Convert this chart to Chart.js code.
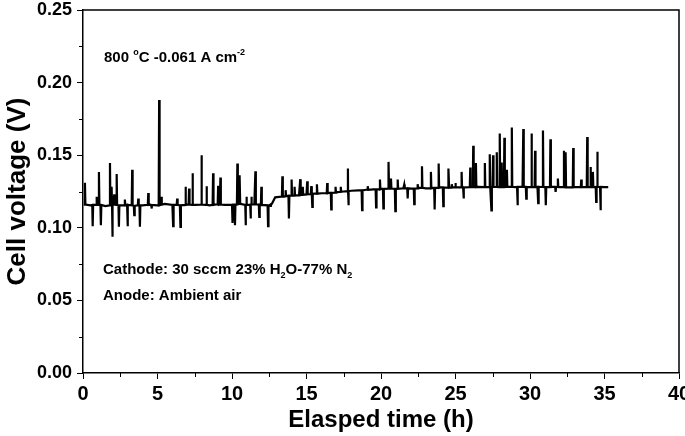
<!DOCTYPE html>
<html>
<head>
<meta charset="utf-8">
<script src="https://cdn.jsdelivr.net/npm/chart.js@4.4.1/dist/chart.umd.min.js"></script>
<style>
  html, body { margin: 0; padding: 0; background: #fff; }
</style>
</head>
<body>
<canvas id="voltChart" width="685" height="436"></canvas>
<script>
// baseline readings (h, V)
let baseTimes = [0.05, 0.5, 1.0, 1.5, 2.0, 2.5, 3.0, 3.5, 4.0, 4.5, 5.0, 5.5, 6.0, 6.5, 7.0, 7.5, 8.0, 8.5, 9.0, 9.5,
  10.0, 10.5, 11.0, 11.5, 12.0, 12.5, 12.7, 12.9, 13.5, 14.0, 14.5, 15.0, 15.5, 16.0, 16.5, 17.0, 17.5, 18.0, 18.5, 19.0,
  19.5, 20.0, 20.5, 21.0, 21.5, 22.0, 22.5, 23.0, 23.5, 24.0, 24.5, 25.0, 25.5, 26.0, 26.5, 27.0, 27.5, 28.0, 28.5, 29.0,
  29.5, 30.0, 30.5, 31.0, 31.5, 32.0, 32.5, 33.0, 33.5, 34.0, 34.5, 35.0, 35.25];
let baseVolts = [0.1160, 0.1155, 0.1158, 0.1150, 0.1160, 0.1155, 0.1158, 0.1152, 0.1155, 0.1160, 0.1155, 0.1165, 0.1158, 0.1155, 0.1160, 0.1158, 0.1160, 0.1155, 0.1162, 0.1158,
  0.1160, 0.1165, 0.1158, 0.1162, 0.1158, 0.1155, 0.1170, 0.1210, 0.1215, 0.1222, 0.1225, 0.1230, 0.1235, 0.1238, 0.1240, 0.1245, 0.1250, 0.1255, 0.1258, 0.1262,
  0.1265, 0.1268, 0.1270, 0.1268, 0.1272, 0.1270, 0.1275, 0.1272, 0.1275, 0.1278, 0.1276, 0.1280, 0.1278, 0.1280, 0.1282, 0.1280, 0.1282, 0.1280, 0.1282, 0.1280,
  0.1283, 0.1280, 0.1282, 0.1280, 0.1282, 0.1280, 0.1278, 0.1280, 0.1282, 0.1280, 0.1282, 0.1280, 0.1280];

// spikes: time, tip value, level the trace leaves from
let spikeTimes = [0.13, 0.65, 0.92, 1.07, 1.20, 1.81, 1.92, 1.99, 2.10, 2.26, 2.41, 2.81, 2.99, 3.30, 3.44, 3.71, 3.82, 4.38, 4.60, 5.11, 5.27,
  6.05, 6.32, 6.54, 6.88, 7.12, 7.35, 7.95, 8.29, 8.73, 9.07, 9.22, 10.05, 10.20, 10.36, 10.52, 10.92, 10.96, 11.25, 11.30, 11.57,
  11.83, 11.97, 12.42, 12.60, 13.38, 13.60, 13.82, 14.00, 14.20, 14.58, 14.75, 15.05, 15.32, 15.39, 15.70, 16.39, 16.66, 16.95, 17.30, 17.78,
  17.82, 18.73, 19.11, 19.67, 19.93, 20.16, 20.51, 20.67, 20.96, 21.12, 21.56, 21.79, 22.23, 22.46, 22.75, 23.35, 23.60, 23.87, 24.18, 24.54,
  24.75, 25.00, 25.41, 25.54, 25.99, 26.19, 26.37, 26.97, 27.30, 27.41, 27.52, 27.77, 27.97, 28.10, 28.28, 28.45, 28.78, 29.16, 29.55, 29.75, 30.10, 30.34,
  30.55, 30.87, 31.06, 31.37, 31.72, 31.87, 32.28, 32.39, 32.90, 33.44, 33.84, 34.06, 34.22, 34.44, 34.53, 34.73];
let spikePeaks = [0.1310, 0.1011, 0.1213, 0.1385, 0.1018, 0.1447, 0.1282, 0.0938, 0.1230, 0.1370, 0.1007, 0.1195, 0.1011, 0.1400, 0.1087, 0.1202, 0.1007, 0.1240, 0.1133, 0.1880, 0.1213,
  0.1011, 0.1202, 0.1007, 0.1282, 0.1271, 0.1375, 0.1500, 0.1287, 0.1375, 0.1289, 0.1346, 0.1034, 0.1018, 0.1443, 0.1362, 0.1018, 0.1213, 0.1064, 0.1213, 0.1390,
  0.1075, 0.1282, 0.1011, 0.1144, 0.1355, 0.1259, 0.1064, 0.1333, 0.1282, 0.1335, 0.1282, 0.1321, 0.1287, 0.1144, 0.1300, 0.1309, 0.1126, 0.1282, 0.1282, 0.1408,
  0.1156, 0.1121, 0.1287, 0.1140, 0.1333, 0.1133, 0.1454, 0.1339, 0.1115, 0.1333, 0.1298, 0.1202, 0.1163, 0.1300, 0.1424, 0.1385, 0.1126, 0.1443, 0.1149, 0.1408,
  0.1300, 0.1309, 0.1385, 0.1202, 0.1415, 0.1565, 0.1447, 0.1447, 0.1507, 0.1120, 0.1500, 0.1520, 0.1650, 0.1450, 0.1620, 0.1400, 0.1690, 0.1156, 0.1680, 0.1200, 0.1650, 0.1530,
  0.1170, 0.1670, 0.1156, 0.1610, 0.1247, 0.1339, 0.1530, 0.1520, 0.1550, 0.1333, 0.1626, 0.1419, 0.1385, 0.1179, 0.1523, 0.1121];
let spikeBases = [0.1160, 0.1158, 0.1158, 0.1158, 0.1158, 0.1155, 0.1155, 0.1160, 0.1160, 0.1158, 0.1155, 0.1155, 0.1158, 0.1155, 0.1152, 0.1155, 0.1155, 0.1158, 0.1158, 0.1155, 0.1160,
  0.1158, 0.1158, 0.1155, 0.1158, 0.1160, 0.1158, 0.1160, 0.1158, 0.1158, 0.1160, 0.1160, 0.1160, 0.1160, 0.1162, 0.1165, 0.1158, 0.1158, 0.1160, 0.1160, 0.1162,
  0.1160, 0.1158, 0.1155, 0.1160, 0.1215, 0.1218, 0.1220, 0.1222, 0.1222, 0.1225, 0.1228, 0.1230, 0.1232, 0.1232, 0.1235, 0.1238, 0.1240, 0.1242, 0.1248, 0.1252,
  0.1252, 0.1258, 0.1262, 0.1265, 0.1266, 0.1268, 0.1270, 0.1270, 0.1268, 0.1268, 0.1272, 0.1272, 0.1270, 0.1272, 0.1275, 0.1272, 0.1275, 0.1275, 0.1278, 0.1276,
  0.1278, 0.1280, 0.1278, 0.1278, 0.1280, 0.1280, 0.1280, 0.1280, 0.1281, 0.1281, 0.1282, 0.1281, 0.1280, 0.1280, 0.1280, 0.1281, 0.1282, 0.1281, 0.1283, 0.1282, 0.1280, 0.1281,
  0.1282, 0.1281, 0.1280, 0.1281, 0.1282, 0.1281, 0.1280, 0.1279, 0.1279, 0.1281, 0.1281, 0.1280, 0.1281, 0.1282, 0.1282, 0.1281];

let xTickStep = 5;
let yTickStep = 0.05;

let points = [];
for (let i = 0; i < baseTimes.length; i++) {
    points.push({ x: baseTimes[i], y: baseVolts[i] });
}
for (let i = 0; i < spikeTimes.length; i++) {
    points.push({ x: spikeTimes[i] - 0.03, y: spikeBases[i] });
    points.push({ x: spikeTimes[i], y: spikePeaks[i] });
    points.push({ x: spikeTimes[i] + 0.03, y: spikeBases[i] });
}
points.sort(function (a, b) { return a.x - b.x; });

const FONT = '"Liberation Sans", Arial, sans-serif';

function drawRich(ctx, x, y, parts, size) {
    parts.forEach(function (p) {
        let txt = p[0], kind = p[1];
        if (kind == 'sup' || kind == 'sub') {
            ctx.font = 'bold ' + Math.round(size * 0.62) + 'px ' + FONT;
            let dy = kind == 'sup' ? -size * 0.45 : size * 0.28;
            ctx.fillText(txt, x, y + dy);
        } else {
            ctx.font = 'bold ' + size + 'px ' + FONT;
            ctx.fillText(txt, x, y);
        }
        x += ctx.measureText(txt).width;
    });
}

const framePlugin = {
    id: 'frame',
    afterDraw(chart) {
        const ctx = chart.ctx;
        const a = chart.chartArea;
        const xs = chart.scales.x, ys = chart.scales.y;
        ctx.save();
        ctx.strokeStyle = '#000';
        ctx.lineWidth = 1.5;
        ctx.beginPath();
        ctx.moveTo(a.left, a.top); ctx.lineTo(a.right, a.top); ctx.lineTo(a.right, a.bottom);
        ctx.stroke();
        // minor ticks
        ctx.lineWidth = 1;
        ctx.beginPath();
        for (let v = xTickStep / 2; v < 40; v += xTickStep) {
            let px = Math.round(xs.getPixelForValue(v)) + 0.5;
            ctx.moveTo(px, a.bottom); ctx.lineTo(px, a.bottom + 4);
        }
        for (let v = yTickStep / 2; v < 0.25; v += yTickStep) {
            let py = Math.round(ys.getPixelForValue(v)) + 0.5;
            ctx.moveTo(a.left, py); ctx.lineTo(a.left - 4, py);
        }
        ctx.stroke();

        ctx.fillStyle = '#000';
        ctx.textBaseline = 'alphabetic';
        ctx.textAlign = 'left';
        drawRich(ctx, 104, 62, [['800 ', 'n'], ['o', 'sup'], ['C -0.061 A cm', 'n'], ['-2', 'sup']], 15);
        drawRich(ctx, 103, 274, [['Cathode: 30 sccm 23% H', 'n'], ['2', 'sub'], ['O-77% N', 'n'], ['2', 'sub']], 15);
        drawRich(ctx, 103, 300, [['Anode: Ambient air', 'n']], 15);
        ctx.restore();
    }
};

new Chart('voltChart', {
    type: 'line',
    data: {
        datasets: [{
            data: points,
            borderColor: '#000',
            borderWidth: 2.2,
            pointRadius: 0,
            tension: 0,
            fill: false
        }]
    },
    options: {
        responsive: false,
        animation: false,
        layout: { padding: { left: 0, right: 6, top: 10, bottom: 0 } },
        plugins: { legend: { display: false }, tooltip: { enabled: false } },
        scales: {
            x: {
                type: 'linear', min: 0, max: 40,
                ticks: { stepSize: xTickStep, color: '#000', padding: 3, maxRotation: 0,
                         font: { family: FONT, size: 20, weight: 'bold' } },
                grid: { drawOnChartArea: false, tickLength: 6, color: '#000', tickColor: '#000', tickWidth: 1 },
                border: { color: '#000', width: 1.5 },
                title: { display: true, text: 'Elasped time (h)', color: '#000', padding: { top: 0, bottom: 1 },
                         font: { family: FONT, size: 24, weight: 'bold' } },
                afterFit(s) { s.height = 63; s.paddingRight = 0; s.paddingLeft = 0; }
            },
            y: {
                min: 0, max: 0.25,
                ticks: { stepSize: yTickStep, color: '#000', padding: 5,
                         font: { family: FONT, size: 18, weight: 'bold' },
                         callback: function (v) { return v.toFixed(2); } },
                grid: { drawOnChartArea: false, tickLength: 6, color: '#000', tickColor: '#000', tickWidth: 1 },
                border: { color: '#000', width: 1.5 },
                title: { display: true, text: 'Cell voltage (V)', color: '#000', padding: { top: 2, bottom: 0 },
                         font: { family: FONT, size: 26, weight: 'bold' } },
                afterFit(s) { s.width = 83; s.paddingTop = 0; s.paddingBottom = 0; }
            }
        }
    },
    plugins: [framePlugin]
});
</script>
</body>
</html>
